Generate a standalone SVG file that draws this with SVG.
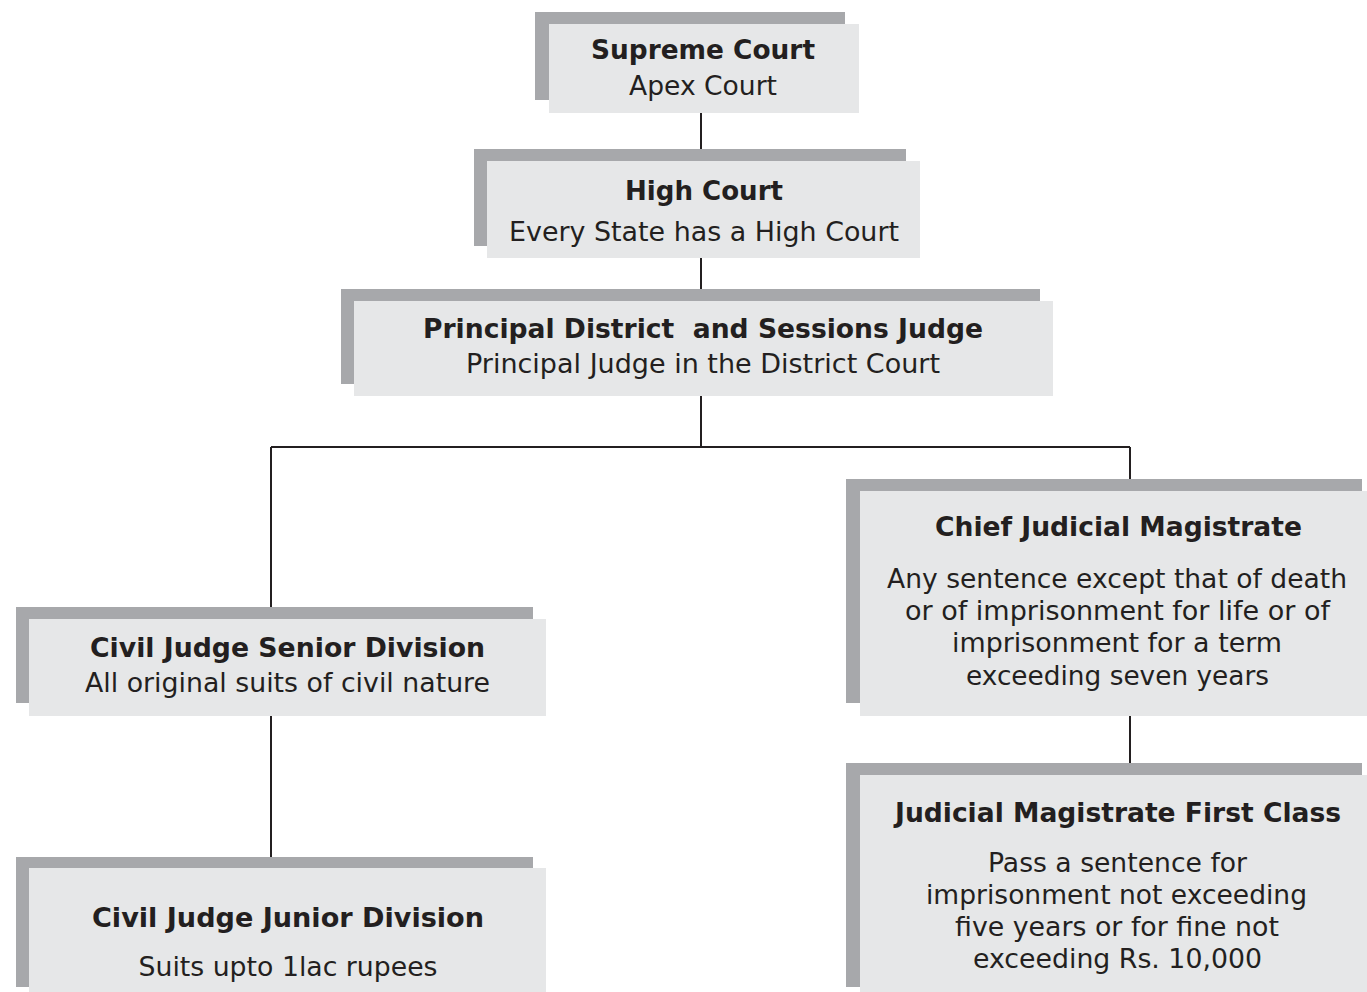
<svg xmlns="http://www.w3.org/2000/svg" width="1367" height="992" viewBox="0 0 1367 992">
<style>
.sh{fill:#a7a8ab}
.bx{fill:#e6e7e8}
text{font-family:"DejaVu Sans","Liberation Sans",sans-serif;font-size:26px;fill:#231f20;text-anchor:middle}
.t{font-weight:bold}
.ln{stroke:#231f20;stroke-width:2;fill:none}
</style>
<rect width="1367" height="992" fill="#ffffff"/>
<g id="connectors">
<path class="ln" d="M701 113V161M701 258V301M701 396V447M271 447H1130M271 447V619M1130 447V491M271 716V868M1130 716V775"/>
</g>
<g id="supreme">
<rect class="sh" x="535" y="12" width="310" height="88"/>
<rect class="bx" x="549" y="24" width="310" height="89"/>
<text class="t" x="703" y="59" textLength="224" lengthAdjust="spacingAndGlyphs">Supreme Court</text>
<text x="703" y="95" textLength="148" lengthAdjust="spacingAndGlyphs">Apex Court</text>
</g>
<g id="high">
<rect class="sh" x="474" y="149" width="432" height="97"/>
<rect class="bx" x="487" y="161" width="433" height="97"/>
<text class="t" x="704" y="200" textLength="158" lengthAdjust="spacingAndGlyphs">High Court</text>
<text x="704" y="241" textLength="390" lengthAdjust="spacingAndGlyphs">Every State has a High Court</text>
</g>
<g id="principal">
<rect class="sh" x="341" y="289" width="699" height="95"/>
<rect class="bx" x="354" y="301" width="699" height="95"/>
<text class="t" x="703" y="338" textLength="560" lengthAdjust="spacingAndGlyphs" xml:space="preserve">Principal District  and Sessions Judge</text>
<text x="703" y="373" textLength="474" lengthAdjust="spacingAndGlyphs">Principal Judge in the District Court</text>
</g>
<g id="civil-senior">
<rect class="sh" x="16" y="607" width="517" height="96"/>
<rect class="bx" x="29" y="619" width="517" height="97"/>
<text class="t" x="287.5" y="657" textLength="395" lengthAdjust="spacingAndGlyphs">Civil Judge Senior Division</text>
<text x="287.5" y="692" textLength="405" lengthAdjust="spacingAndGlyphs">All original suits of civil nature</text>
</g>
<g id="civil-junior">
<rect class="sh" x="16" y="857" width="517" height="130"/>
<rect class="bx" x="29" y="868" width="517" height="124"/>
<text class="t" x="288" y="927" textLength="392" lengthAdjust="spacingAndGlyphs">Civil Judge Junior Division</text>
<text x="288" y="976" textLength="299" lengthAdjust="spacingAndGlyphs">Suits upto 1lac rupees</text>
</g>
<g id="cjm">
<rect class="sh" x="846" y="479" width="516" height="224"/>
<rect class="bx" x="860" y="491" width="507" height="225"/>
<text class="t" x="1118.5" y="536" textLength="367" lengthAdjust="spacingAndGlyphs">Chief Judicial Magistrate</text>
<text x="1117" y="588" textLength="460" lengthAdjust="spacingAndGlyphs">Any sentence except that of death</text>
<text x="1117.5" y="620" textLength="425" lengthAdjust="spacingAndGlyphs">or of imprisonment for life or of</text>
<text x="1117" y="652" textLength="330" lengthAdjust="spacingAndGlyphs">imprisonment for a term</text>
<text x="1117.5" y="685" textLength="303" lengthAdjust="spacingAndGlyphs">exceeding seven years</text>
</g>
<g id="jmfc">
<rect class="sh" x="846" y="763" width="516" height="224"/>
<rect class="bx" x="860" y="775" width="507" height="217"/>
<text class="t" x="1118" y="822" textLength="446" lengthAdjust="spacingAndGlyphs">Judicial Magistrate First Class</text>
<text x="1117.5" y="872" textLength="259" lengthAdjust="spacingAndGlyphs">Pass a sentence for</text>
<text x="1116.5" y="904" textLength="381" lengthAdjust="spacingAndGlyphs">imprisonment not exceeding</text>
<text x="1117" y="936" textLength="324" lengthAdjust="spacingAndGlyphs">five years or for fine not</text>
<text x="1117.5" y="968" textLength="289" lengthAdjust="spacingAndGlyphs">exceeding Rs. 10,000</text>
</g>
</svg>
